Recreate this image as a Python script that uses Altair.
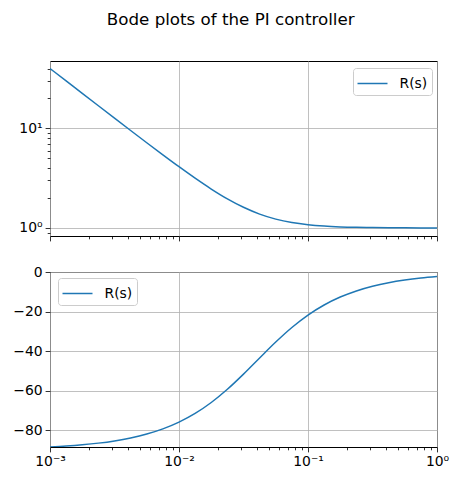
import altair as alt
import pandas as pd

# Values (frequency in rad/s, magnitude, phase in deg)
freq = [0.001, 0.0013335, 0.0017783, 0.0023714, 0.0031623, 0.004217, 0.0056234,
        0.0074989, 0.01, 0.013335, 0.017783, 0.023714, 0.031623, 0.04217,
        0.056234, 0.074989, 0.1, 0.13335, 0.17783, 0.23714, 0.31623, 0.4217,
        0.56234, 0.74989, 1.0]
magnitude = [40.01, 30.02, 22.52, 16.90, 12.69, 9.538, 7.183, 5.427, 4.123, 3.162,
             2.462, 1.961, 1.6125, 1.378, 1.227, 1.133, 1.077, 1.044, 1.025, 1.014,
             1.008, 1.0045, 1.0025, 1.0014, 1.0008]
phase = [-88.57, -88.09, -87.45, -86.61, -85.48, -83.98, -82.00, -79.38, -75.96,
         -71.57, -66.04, -59.35, -51.68, -43.49, -35.44, -28.08, -21.80, -16.70,
         -12.68, -9.58, -7.21, -5.42, -4.07, -3.05, -2.29]
series_name = "R(s)"

x_ticks = [0.001, 0.002, 0.003, 0.004, 0.005, 0.006, 0.007, 0.008, 0.009,
           0.01, 0.02, 0.03, 0.04, 0.05, 0.06, 0.07, 0.08, 0.09,
           0.1, 0.2, 0.3, 0.4, 0.5, 0.6, 0.7, 0.8, 0.9, 1.0]
mag_ticks = [0.9, 1, 2, 3, 4, 5, 6, 7, 8, 9, 10, 20, 30, 40]
phase_ticks = [-80, -60, -40, -20, 0]

df = pd.DataFrame({"w": freq, "mag": magnitude, "phase": phase,
                   "series": [series_name] * len(freq)})

FONT = "DejaVu Sans"
BLUE = "#1f77b4"
E = "(log(datum.value)/LN10)"
MAJOR = f"abs({E} - round({E})) < 1e-6"

x_label_expr = (f"{MAJOR} ? (round({E}) == -3 ? '10⁻³' : round({E}) == -2 ? '10⁻²' : "
                f"round({E}) == -1 ? '10⁻¹' : '10⁰') : ''")
y_label_expr = f"{MAJOR} ? (round({E}) == 0 ? '10⁰' : '10¹') : ''"

common_axis = dict(
    grid=True, gridColor="#b0b0b0", gridWidth=0.8,
    tickColor="black", tickWidth=0.8, domain=False,
    labelFont=FONT, labelFontSize=13.9, labelColor="black",
    labelOverlap=False, labelFlush=False, labelPadding=3, title=None,
)

def log_axis(values, labels, label_expr=None):
    kw = dict(common_axis)
    kw.update(
        values=values,
        labels=labels,
        gridOpacity={"condition": {"test": MAJOR, "value": 1}, "value": 0},
        tickSize={"condition": {"test": MAJOR, "value": 4.9}, "value": 2.8},
    )
    if label_expr is not None:
        kw["labelExpr"] = label_expr
    return alt.Axis(**kw)

def legend(x, y):
    return alt.Legend(
        title=None, orient="none", legendX=x, legendY=y,
        symbolType="M-1.1,0H1.9", symbolSize=400, symbolStrokeWidth=1.5,
        symbolFillColor="transparent",
        labelFont=FONT, labelFontSize=13.9, labelColor="black",
        fillColor="white", strokeColor="#cccccc", cornerRadius=3,
        padding=4.5, labelOffset=20,
    )

color_scale = alt.Scale(domain=[series_name], range=[BLUE])

top = alt.Chart(df).mark_line(strokeWidth=1.5, clip=True, interpolate="monotone").encode(
    x=alt.X("w:Q", scale=alt.Scale(type="log", domain=[0.001, 1], nice=False),
            axis=log_axis(x_ticks, False)),
    y=alt.Y("mag:Q", scale=alt.Scale(type="log", domain=[0.83, 47.6], nice=False),
            axis=log_axis(mag_ticks, True, y_label_expr)),
    color=alt.Color("series:N", scale=color_scale, legend=legend(303, 7)),
).properties(width=387, height=175)

bottom = alt.Chart(df).mark_line(strokeWidth=1.5, clip=True, interpolate="monotone").encode(
    x=alt.X("w:Q", scale=alt.Scale(type="log", domain=[0.001, 1], nice=False),
            axis=log_axis(x_ticks, True, x_label_expr)),
    y=alt.Y("phase:Q", scale=alt.Scale(domain=[-88.57, 0], nice=False, zero=False),
            axis=alt.Axis(values=phase_ticks, tickSize=4.9, **common_axis)),
    color=alt.Color("series:N", scale=color_scale, legend=legend(8, 6)),
).properties(width=387, height=175)

chart = alt.vconcat(top, bottom, spacing=22).resolve_legend(
    color="independent"
).resolve_scale(color="independent").properties(
    title=alt.TitleParams("Bode plots of the PI controller", font=FONT, fontSize=16.7,
                          fontWeight="normal", color="black", anchor="middle", offset=32),
    padding={"left": 4, "top": 3, "right": 0, "bottom": 0},
    background="white",
).configure_view(stroke="black", strokeWidth=1)

chart.save("out.html", embed_options={"renderer": "svg", "actions": False})
